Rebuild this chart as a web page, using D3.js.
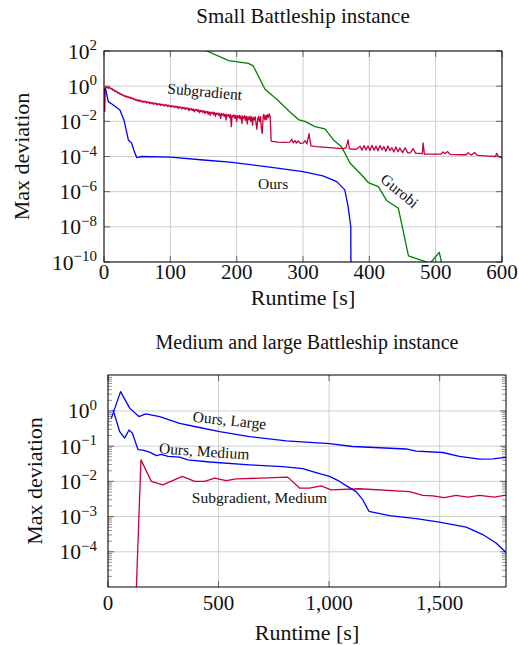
<!DOCTYPE html>
<html>
<head>
<meta charset="utf-8">
<script src="https://cdn.jsdelivr.net/npm/d3@7"></script>
<style>
body { margin: 0; background: #fff; }
svg text { font-family: "Liberation Serif", "DejaVu Serif", serif; fill: #111; }
</style>
</head>
<body>
<svg id="chart" width="519" height="646" font-family="Liberation Serif"></svg>
<script>
"use strict"

// all series are [runtime in s, log10 of max deviation]
var smallOurs = [[2,-0.09],[6.5,-0.88],[14,-1.07],[24,-1.35],[30,-1.92],[34,-2.58],[36.7,-3.06],[41.7,-3.24],[45.7,-3.72],[49.3,-4.06],[56.8,-4.0],[100,-4.04],[150,-4.2],[190,-4.32],[250,-4.6],[300,-4.86],[330,-5.1],[351,-5.43],[363,-5.9],[368,-6.85],[372,-7.98],[372.5,-12]];

var smallGurobi = [[140,2.4],[155,2.0],[188,1.45],[217.6,1.3],[225,1.15],[242.7,-0.18],[260,-0.73],[280,-1.45],[294,-1.92],[303,-2.0],[318,-2.3],[333,-2.43],[346,-3.06],[358,-3.44],[371,-4.38],[386,-4.95],[398.5,-5.48],[413.5,-5.71],[426,-6.5],[443.7,-6.94],[459,-9.65],[491.5,-10.07],[505.5,-9.45],[512,-10.6]];

var smallSubgrad = [[0,-0.08],[1,-1.45],[2,-0.1],[3.5,-0.04],[5,-0.1],[6,-0.05],[7.5,-0.13],[9,-0.08],[10.5,-0.16],[12,-0.12],[13,-0.22],[14.5,-0.2],[16,-0.3],[17,-0.26],[18.5,-0.33],[20,-0.3],[21,-0.4],[22.5,-0.37],[24,-0.46],[25,-0.42],[26.5,-0.5],[28,-0.47],[29,-0.55],[30.5,-0.52],[32,-0.6],[33,-0.55],[34.5,-0.63],[36,-0.58],[37,-0.66],[38.5,-0.62],[40,-0.7],[41,-0.64],[42.5,-0.72],[44,-0.68],[45,-0.78],[46.5,-0.72],[48,-0.8],[49,-0.75],[50.5,-0.84],[52,-0.78],[53,-0.86],[54.5,-0.8],[56,-0.88],[57,-0.83],[58.5,-0.92],[60,-0.85],[61,-0.9],[62.5,-0.86],[64,-0.96],[65,-0.88],[66.5,-0.94],[68,-0.9],[69,-1.0],[70.5,-0.92],[72,-0.98],[73,-0.93],[74.5,-1.04],[76,-0.96],[77,-1.01],[78.5,-0.97],[80,-1.07],[81,-0.99],[82.5,-1.04],[84,-1.0],[85,-1.1],[86.5,-1.02],[88,-1.08],[89,-1.03],[90.5,-1.13],[92,-1.05],[93,-1.1],[94.5,-1.06],[96,-1.16],[97,-1.08],[98.5,-1.14],[100,-1.1],[101,-1.19],[102.5,-1.11],[104,-1.16],[105,-1.12],[106.5,-1.22],[108,-1.14],[109,-1.2],[110.5,-1.15],[112,-1.27],[113,-1.17],[114.5,-1.23],[116,-1.18],[117,-1.3],[118.5,-1.2],[120,-1.26],[121,-1.21],[122.5,-1.33],[124,-1.23],[125,-1.29],[126.5,-1.24],[128,-1.4],[129,-1.26],[130.5,-1.33],[132,-1.28],[133,-1.38],[134.5,-1.3],[136,-1.46],[137,-1.32],[138.5,-1.38],[140,-1.33],[141,-1.43],[142.5,-1.35],[144,-1.52],[145,-1.37],[146.5,-1.44],[148,-1.39],[149,-1.5],[150.5,-1.4],[152,-1.56],[153,-1.42],[154.5,-1.5],[156,-1.44],[157,-1.6],[158.5,-1.46],[160,-1.66],[161,-1.48],[162.5,-1.55],[164,-1.47],[165,-1.62],[166.5,-1.5],[168,-1.72],[169,-1.52],[170.5,-1.6],[172,-1.53],[173,-1.66],[174.5,-1.55],[176,-1.84],[177,-1.56],[178.5,-1.64],[180,-1.57],[181,-1.72],[182.5,-1.59],[184,-1.92],[185,-1.6],[186.5,-1.7],[188,-1.61],[189,-1.78],[190.5,-1.62],[192,-2.3],[193,-1.66],[194.5,-1.75],[196,-1.63],[197,-1.82],[198.5,-1.66],[200,-2.0],[201,-1.68],[202.5,-1.79],[204,-1.66],[205,-1.86],[206.5,-1.69],[208,-2.12],[209,-1.7],[210.5,-1.83],[212,-1.68],[213,-1.95],[214.5,-1.72],[216,-2.15],[217,-1.74],[218.5,-1.9],[220,-1.7],[221,-2.0],[222.5,-1.75],[224,-2.22],[225,-1.76],[226.5,-1.93],[228,-1.74],[229,-2.05],[230.5,-2.45],[232,-1.8],[233,-1.72],[234.5,-2.02],[236,-1.74],[237,-2.35],[238.5,-2.68],[240,-1.7],[241,-1.6],[242.5,-1.92],[244,-1.66],[245,-1.9],[246.5,-1.62],[248,-1.78],[249,-1.58],[250.5,-1.7],[252,-3.12],[262,-3.18],[272,-3.2],[280,-3.18],[283,-3.02],[285,-3.22],[288,-3.1],[290,-3.24],[293,-3.12],[296,-3.25],[300,-3.24],[303,-3.1],[306,-3.28],[309,-2.7],[312,-3.4],[320,-3.44],[335,-3.48],[350,-3.52],[361,-3.55],[365,-3.5],[368,-3.06],[370,-3.56],[380,-3.6],[386,-3.42],[389,-3.64],[392,-3.38],[395,-3.62],[398,-3.4],[401,-3.66],[404,-3.36],[407,-3.64],[410,-3.42],[413,-3.68],[416,-3.38],[419,-3.62],[422,-3.44],[425,-3.7],[428,-3.4],[431,-3.66],[434,-3.5],[437,-3.74],[440,-3.46],[443,-3.72],[446,-3.52],[450,-3.78],[454,-3.5],[458,-3.8],[462,-3.78],[466,-3.55],[470,-3.82],[476,-3.82],[480,-3.84],[481,-3.22],[483,-3.86],[495,-3.87],[508,-3.87],[511,-3.74],[514,-3.84],[518,-3.72],[522,-3.88],[540,-3.9],[546,-3.9],[549,-3.78],[553,-3.92],[559,-3.78],[563,-3.94],[580,-3.98],[590,-4.0],[592,-3.82],[595,-4.02],[600,-4.06]];

var largeOurs = [[15,-0.21],[57,0.55],[98,0.08],[140,-0.16],[170,-0.085],[234,-0.16],[324,-0.35],[414,-0.47],[505,-0.59],[640,-0.73],[806,-0.85],[1002,-0.93],[1107,-1.01],[1348,-1.08],[1394,-1.14],[1514,-1.18],[1589,-1.29],[1680,-1.37],[1740,-1.36],[1800,-1.32]];

var mediumOurs = [[23,0.03],[53,-0.59],[75,-0.77],[95,-0.54],[110,-0.63],[136,-1.10],[158,-1.11],[188,-1.17],[219,-1.27],[241,-1.23],[271,-1.29],[324,-1.31],[361,-1.39],[460,-1.45],[640,-1.53],[791,-1.58],[881,-1.64],[941,-1.75],[1002,-1.86],[1039,-1.97],[1077,-2.12],[1122,-2.29],[1152,-2.52],[1180,-2.85],[1273,-2.97],[1394,-3.06],[1499,-3.16],[1620,-3.30],[1695,-3.51],[1755,-3.75],[1800,-4.02]];

var mediumSubgrad = [[117,-7],[149,-1.39],[196,-2.0],[248,-2.1],[336,-1.86],[392,-2.0],[437,-2.0],[482,-1.91],[535,-1.98],[580,-1.93],[813,-1.88],[866,-2.19],[911,-2.19],[964,-2.13],[1009,-2.24],[1137,-2.21],[1363,-2.29],[1424,-2.40],[1469,-2.41],[1521,-2.46],[1574,-2.40],[1627,-2.45],[1680,-2.40],[1747,-2.45],[1800,-2.39]];

// tick values
var smallXTicks = [0, 100, 200, 300, 400, 500, 600];
var smallYExp = [2, 0, -2, -4, -6, -8, -10];
var bigXTicks = [0, 500, 1000, 1500];
var bigYExp = [0, -1, -2, -3, -4];

var blue = "#0000ff", green = "#008000", red = "#c8003c";
var serif = "Liberation Serif";

var svg = d3.select("#chart");
var fmt = d3.format(",");

function powLabel(sel, e) {
    sel.append("tspan").text("10");
    sel.append("tspan").attr("dy", -8.5).attr("font-size", 15)
        .text(e < 0 ? "\u2212" + (-e) : e);
}

function drawPanel(o) {
    var g = svg.append("g").attr("font-family", serif);
    var x = d3.scaleLinear().domain(o.xDomain).range([o.left, o.right]);
    var y = d3.scaleLog().domain(o.yDomain).range([o.bottom, o.top]);

    // grid
    g.selectAll(".gx").data(o.xTicks).join("line")
        .attr("x1", d => x(d)).attr("x2", d => x(d))
        .attr("y1", o.top).attr("y2", o.bottom)
        .attr("stroke", "#cfcfcf").attr("stroke-width", 1);
    g.selectAll(".gy").data(o.yExp).join("line")
        .attr("x1", o.left).attr("x2", o.right)
        .attr("y1", d => y(Math.pow(10, d))).attr("y2", d => y(Math.pow(10, d)))
        .attr("stroke", "#cfcfcf").attr("stroke-width", 1);

    // minor log ticks
    if (o.minor) {
        var minor = [];
        o.yExp.concat([Math.min.apply(null, o.yExp) - 1]).forEach(function(e) {
            for (var k = 2; k <= 9; k++) {
                var v = k * Math.pow(10, e);
                if (v > o.yDomain[0] && v < o.yDomain[1]) minor.push(v);
            }
        });
        [o.left, o.right].forEach(function(side, i) {
            var dir = i == 0 ? 1 : -1;
            g.append("g").selectAll("line").data(minor).join("line")
                .attr("x1", side).attr("x2", side + dir * 4)
                .attr("y1", d => y(d)).attr("y2", d => y(d))
                .attr("stroke", "#777").attr("stroke-width", 0.8);
        });
    }

    // major ticks inward on all sides
    [o.left, o.right].forEach(function(side, i) {
        var dir = i == 0 ? 1 : -1;
        g.append("g").selectAll("line").data(o.yExp).join("line")
            .attr("x1", side).attr("x2", side + dir * 6)
            .attr("y1", d => y(Math.pow(10, d))).attr("y2", d => y(Math.pow(10, d)))
            .attr("stroke", "#666").attr("stroke-width", 1);
    });
    [o.bottom, o.top].forEach(function(side, i) {
        var dir = i == 0 ? -1 : 1;
        g.append("g").selectAll("line").data(o.xTicks).join("line")
            .attr("x1", d => x(d)).attr("x2", d => x(d))
            .attr("y1", side).attr("y2", side + dir * 6)
            .attr("stroke", "#666").attr("stroke-width", 1);
    });

    // series, clipped to the plot box
    var clipId = "clip" + o.id;
    svg.append("clipPath").attr("id", clipId).append("rect")
        .attr("x", o.left).attr("y", o.top)
        .attr("width", o.right - o.left).attr("height", o.bottom - o.top);
    var line = d3.line().x(d => x(d[0])).y(d => y(Math.pow(10, d[1])));
    var sg = g.append("g").attr("clip-path", "url(#" + clipId + ")");
    o.series.forEach(function(s) {
        sg.append("path").datum(s.data)
            .attr("d", line).attr("fill", "none")
            .attr("stroke", s.color).attr("stroke-width", 1.3)
            .attr("stroke-linejoin", "round");
    });

    // frame
    g.append("rect").attr("x", o.left).attr("y", o.top)
        .attr("width", o.right - o.left).attr("height", o.bottom - o.top)
        .attr("fill", "none").attr("stroke", "#000").attr("stroke-width", 1);

    // tick labels
    g.selectAll(".xl").data(o.xTicks).join("text")
        .attr("x", d => x(d)).attr("y", o.bottom + o.tickDy)
        .attr("text-anchor", "middle").attr("font-size", 21)
        .text(d => fmt(d));
    g.selectAll(".yl").data(o.yExp).join("text")
        .attr("x", o.left - o.yTickGap).attr("y", d => y(Math.pow(10, d)) + 7.5)
        .attr("text-anchor", "end").attr("font-size", 21.5)
        .each(function(d) { powLabel(d3.select(this), d); });

    // titles
    g.append("text").attr("x", (o.left + o.right) / 2).attr("y", o.titleY)
        .attr("text-anchor", "middle").attr("font-size", o.titleSize).text(o.title);
    g.append("text").attr("x", (o.left + o.right) / 2).attr("y", o.bottom + o.runtimeDy)
        .attr("text-anchor", "middle").attr("font-size", 22).text("Runtime [s]");
    g.append("text")
        .attr("transform", "translate(" + o.yLabelX + "," + ((o.top + o.bottom) / 2) + ") rotate(-90)")
        .attr("text-anchor", "middle").attr("font-size", 22).text("Max deviation");

    // in-plot labels
    o.labels.forEach(function(l) {
        g.append("text")
            .attr("transform", "translate(" + x(l.t) + "," + y(Math.pow(10, l.v)) + ") rotate(" + l.rot + ")")
            .attr("text-anchor", "middle").attr("dy", "0.35em")
            .attr("font-size", 15.5).text(l.text);
    });
}

drawPanel({
    id: 1, left: 104, right: 502, top: 51, bottom: 262,
    xDomain: [0, 600], yDomain: [1e-10, 1e2],
    xTicks: smallXTicks, yExp: smallYExp, minor: false,
    title: "Small Battleship instance", titleY: 23, titleSize: 21, yLabelX: 29,
    tickDy: 17, runtimeDy: 43, yTickGap: 7,
    series: [
        {data: smallGurobi, color: green},
        {data: smallSubgrad, color: red},
        {data: smallOurs, color: blue}
    ],
    labels: [
        {text: "Subgradient", t: 152, v: -0.3, rot: 5},
        {text: "Ours", t: 255, v: -5.55, rot: 0},
        {text: "Gurobi", t: 446, v: -5.95, rot: 40}
    ]
});

drawPanel({
    id: 2, left: 108, right: 506, top: 375, bottom: 587,
    xDomain: [0, 1800], yDomain: [1e-5, 10.5],
    xTicks: bigXTicks, yExp: bigYExp, minor: true,
    title: "Medium and large Battleship instance", titleY: 349, titleSize: 20, yLabelX: 42,
    tickDy: 23, runtimeDy: 53, yTickGap: 11,
    series: [
        {data: mediumSubgrad, color: red},
        {data: largeOurs, color: blue},
        {data: mediumOurs, color: blue}
    ],
    labels: [
        {text: "Ours, Large", t: 550, v: -0.26, rot: 6},
        {text: "Ours, Medium", t: 435, v: -1.14, rot: 4},
        {text: "Subgradient, Medium", t: 685, v: -2.45, rot: 0}
    ]
});
</script>
</body>
</html>
